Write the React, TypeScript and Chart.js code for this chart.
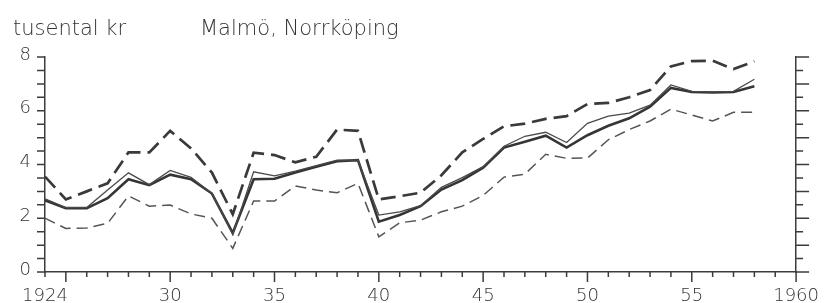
import React, { useEffect, useRef } from "react";
import { Chart, registerables } from "chart.js";

Chart.register(...registerables);

const YEARS: number[] = [
  1924, 1925, 1926, 1927, 1928, 1929, 1930, 1931, 1932, 1933, 1934, 1935,
  1936, 1937, 1938, 1939, 1940, 1941, 1942, 1943, 1944, 1945, 1946, 1947,
  1948, 1949, 1950, 1951, 1952, 1953, 1954, 1955, 1956, 1957, 1958,
];

// thick dashed (upper)
const UPPER: number[] = [
  3.55, 2.7, 3.0, 3.3, 4.45, 4.45, 5.25, 4.6, 3.7, 2.15, 4.44, 4.35,
  4.08, 4.29, 5.3, 5.25, 2.7, 2.82, 2.95, 3.6, 4.45, 4.95, 5.42, 5.52,
  5.7, 5.8, 6.25, 6.29, 6.5, 6.77, 7.65, 7.85, 7.86, 7.55, 7.84,
];

// thick solid
const MAIN: number[] = [
  2.67, 2.37, 2.37, 2.75, 3.45, 3.23, 3.62, 3.45, 2.92, 1.45, 3.45, 3.47,
  3.7, 3.92, 4.12, 4.16, 1.87, 2.12, 2.45, 3.07, 3.42, 3.88, 4.63, 4.85,
  5.07, 4.63, 5.09, 5.44, 5.72, 6.15, 6.85, 6.7, 6.68, 6.7, 6.91,
];

// thin solid
const SECOND: number[] = [
  2.72, 2.4, 2.4, 3.05, 3.69, 3.25, 3.78, 3.52, 2.92, 1.4, 3.73, 3.58,
  3.75, 3.96, 4.16, 4.16, 2.12, 2.24, 2.47, 3.15, 3.51, 3.92, 4.68, 5.05,
  5.2, 4.82, 5.53, 5.8, 5.91, 6.21, 6.96, 6.72, 6.7, 6.72, 7.17,
];

// thin dashed (lower)
const LOWER: number[] = [
  2.0, 1.62, 1.64, 1.81, 2.83, 2.45, 2.49, 2.16, 2.0, 0.88, 2.64, 2.64,
  3.2, 3.05, 2.95, 3.3, 1.31, 1.83, 1.93, 2.24, 2.45, 2.85, 3.53, 3.64,
  4.38, 4.23, 4.24, 4.92, 5.3, 5.62, 6.06, 5.84, 5.62, 5.94, 5.94,
];

const X_LABELS: Record<number, string> = {
  1924: "1924",
  1930: "30",
  1935: "35",
  1940: "40",
  1945: "45",
  1950: "50",
  1955: "55",
  1960: "1960",
};
const Y_LABELS: number[] = [0, 2, 4, 6, 8];

const TITLE_LEFT = "tusental kr";
const TITLE_RIGHT = "Malmö, Norrköping";

const INK = "#3c3c3c";
const TEXT = "#333333";
const FONT_FAMILY = "'DejaVu Sans', sans-serif";

const toPoints = (vals: number[]) => vals.map((v, i) => ({ x: YEARS[i], y: v }));

const tickPlugin = {
  id: "customTicks",
  afterDraw(chart: any) {
    const { ctx, scales } = chart;
    const x = scales.x;
    const y = scales.y;
    const y2 = scales.y2;
    ctx.save();
    ctx.strokeStyle = INK;
    ctx.lineWidth = 1.5;
    ctx.beginPath();
    for (let v = 0; v <= 8.001; v += 0.5) {
      const py = y.getPixelForValue(v);
      ctx.moveTo(y.right - 8, py);
      ctx.lineTo(y.right, py);
    }
    for (let v = 0; v <= 8.001; v += 0.5) {
      const py = y2.getPixelForValue(v);
      const len = Math.abs(v - Math.round(v)) < 0.01 ? 13 : 7;
      ctx.moveTo(y2.left, py);
      ctx.lineTo(y2.left + len, py);
    }
    for (let yr = 1924; yr <= 1960; yr++) {
      const px = x.getPixelForValue(yr);
      const len = yr % 5 === 0 ? 10 : 5;
      ctx.moveTo(px, x.top);
      ctx.lineTo(px, x.top + len);
    }
    ctx.stroke();

    ctx.fillStyle = TEXT;
    ctx.font = `200 21px ${FONT_FAMILY}`;
    ctx.textBaseline = "alphabetic";
    ctx.textAlign = "left";
    ctx.fillText(TITLE_LEFT, 13, 35);
    ctx.fillText(TITLE_RIGHT, 200, 35);
    ctx.restore();
  },
};

export default function App() {
  const ref = useRef<HTMLCanvasElement | null>(null);

  useEffect(() => {
    if (!ref.current) return;
    const chart = new Chart(ref.current, {
      type: "line",
      data: {
        datasets: [
          {
            data: toPoints(LOWER),
            borderColor: "#555555",
            borderWidth: 1.5,
            borderDash: [11, 6],
            pointRadius: 0,
            tension: 0,
          },
          {
            data: toPoints(SECOND),
            borderColor: "#4a4a4a",
            borderWidth: 1.3,
            pointRadius: 0,
            tension: 0,
          },
          {
            data: toPoints(MAIN),
            borderColor: "#353535",
            borderWidth: 2.6,
            pointRadius: 0,
            tension: 0,
          },
          {
            data: toPoints(UPPER),
            borderColor: "#3a3a3a",
            borderWidth: 2.7,
            borderDash: [15, 7],
            pointRadius: 0,
            tension: 0,
          },
        ],
      },
      options: {
        animation: false,
        responsive: false,
        maintainAspectRatio: false,
        layout: { padding: { top: 57, left: 0, right: 0, bottom: 0 } },
        plugins: {
          legend: { display: false },
          tooltip: { enabled: false },
          title: { display: false },
        },
        scales: {
          x: {
            type: "linear",
            min: 1924,
            max: 1960,
            afterFit: (s: any) => {
              s.height = 31;
            },
            grid: { display: false, drawTicks: false },
            border: { display: true, color: INK, width: 1.5 },
            ticks: {
              stepSize: 1,
              autoSkip: false,
              maxRotation: 0,
              padding: 14,
              color: TEXT,
              font: { family: FONT_FAMILY, size: 18, weight: "200" },
              callback: (v: any) => X_LABELS[Number(v)] ?? "",
            },
          },
          y: {
            type: "linear",
            position: "left",
            min: 0,
            max: 8,
            afterFit: (s: any) => {
              s.width = 45;
            },
            grid: { display: false, drawTicks: false },
            border: { display: true, color: INK, width: 1.5 },
            ticks: {
              stepSize: 2,
              autoSkip: false,
              padding: 14,
              labelOffset: -2,
              color: TEXT,
              font: { family: FONT_FAMILY, size: 18, weight: "200" },
              callback: (v: any) => (Y_LABELS.includes(Number(v)) ? String(v) : ""),
            },
          },
          y2: {
            type: "linear",
            position: "right",
            min: 0,
            max: 8,
            afterFit: (s: any) => {
              s.width = 28;
            },
            grid: { display: false, drawTicks: false },
            border: { display: true, color: INK, width: 1.5 },
            ticks: { display: false },
          },
        },
      },
      plugins: [tickPlugin],
    } as any);
    return () => chart.destroy();
  }, []);

  return (
    <div
      style={{
        position: "fixed",
        left: 0,
        top: 0,
        width: 833,
        height: 303,
        background: "#ffffff",
      }}
    >
      <canvas ref={ref} width={833} height={303} style={{ display: "block", width: 833, height: 303 }} />
    </div>
  );
}
